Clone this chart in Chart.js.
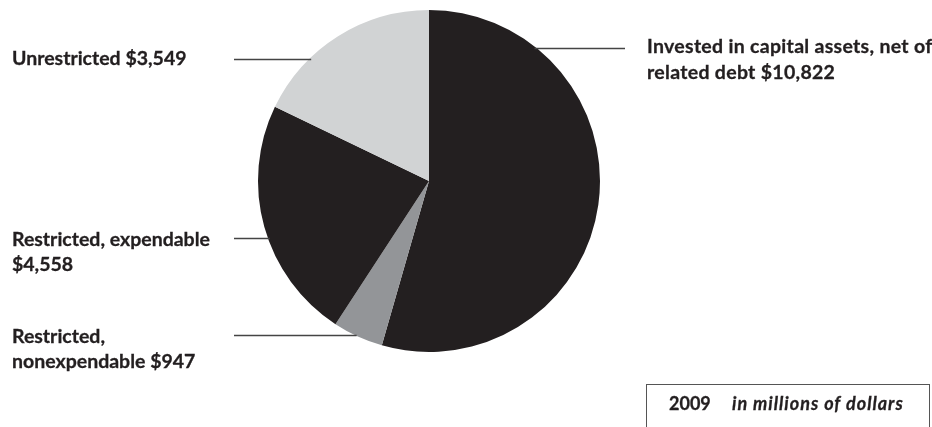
<!DOCTYPE html>
<html>
<head>
<meta charset="utf-8">
<script src="https://cdn.jsdelivr.net/npm/chart.js@4"></script>
<style>
  html, body { margin: 0; padding: 0; background: #fff; }
  #wrap { position: relative; width: 932px; height: 427px; overflow: hidden; }
  #pie { position: absolute; left: 0; top: 0; }
  .lbl { position: absolute; font-family: Lato, sans-serif; font-weight: 700; font-size: 19.5px; line-height: 25px; color: #231f20; white-space: nowrap; -webkit-text-stroke: 0.3px #231f20; }
  #box { position: absolute; left: 646px; top: 384px; width: 284px; height: 60px; border: 1px solid #555; box-sizing: border-box; }
  #box span { position: absolute; top: 7px; font-family: Lato, sans-serif; font-weight: 700; font-size: 18px; color: #231f20; white-space: nowrap; -webkit-text-stroke: 0.3px #231f20; }
</style>
</head>
<body>
<div id="wrap">
  <canvas id="pie" width="932" height="427"></canvas>
  <div class="lbl" style="left:12px;top:45px">Unrestricted $3,549</div>
  <div class="lbl" style="left:647px;top:33px;line-height:26px;letter-spacing:0.3px">Invested in capital assets, net of<br>related debt $10,822</div>
  <div class="lbl" style="left:12px;top:226px">Restricted, expendable<br>$4,558</div>
  <div class="lbl" style="left:12px;top:323px">Restricted,<br>nonexpendable $947</div>
  <div id="box"><span style="left:22px">2009</span><span style="left:85px;font-style:italic;letter-spacing:1px">in millions of dollars</span></div>
</div>
<script>
// net assets by category, clockwise from 12 o'clock
const categories = ['Invested in capital assets, net of related debt', 'Restricted, nonexpendable', 'Restricted, expendable', 'Unrestricted'];
const amounts = [10822, 947, 4558, 3549];
const sliceColors = ['#231f20', '#939598', '#231f20', '#d1d3d4'];

// leader lines: [y, x of outer end, side]
const leaders = [
  [48, 625, 'right'],
  [335, 234, 'left'],
  [238, 234, 'left'],
  [59, 234, 'left']
];

const leaderLines = {
  id: 'leaderLines',
  afterDraw(chart) {
    const arc = chart.getDatasetMeta(0).data[0];
    const cx = arc.x, cy = arc.y, r = arc.outerRadius;
    const ctx = chart.ctx;
    ctx.save();
    ctx.strokeStyle = '#444';
    ctx.lineWidth = 1.3;
    leaders.forEach(([y, x, side]) => {
      const dx = Math.sqrt(Math.max(0, r * r - (y - cy) * (y - cy)));
      const edge = side === 'left' ? cx - dx + 2 : cx + dx - 2;
      ctx.beginPath();
      ctx.moveTo(x, y + 0.5);
      ctx.lineTo(edge, y + 0.5);
      ctx.stroke();
    });
    ctx.restore();
  }
};

new Chart(document.getElementById('pie'), {
  type: 'pie',
  data: {
    labels: categories,
    datasets: [{
      data: amounts,
      backgroundColor: sliceColors,
      borderWidth: 0
    }]
  },
  options: {
    responsive: false,
    animation: false,
    layout: { padding: { left: 258, right: 332, top: 10, bottom: 75 } },
    plugins: { legend: { display: false }, tooltip: { enabled: false } }
  },
  plugins: [leaderLines]
});
</script>
</body>
</html>
